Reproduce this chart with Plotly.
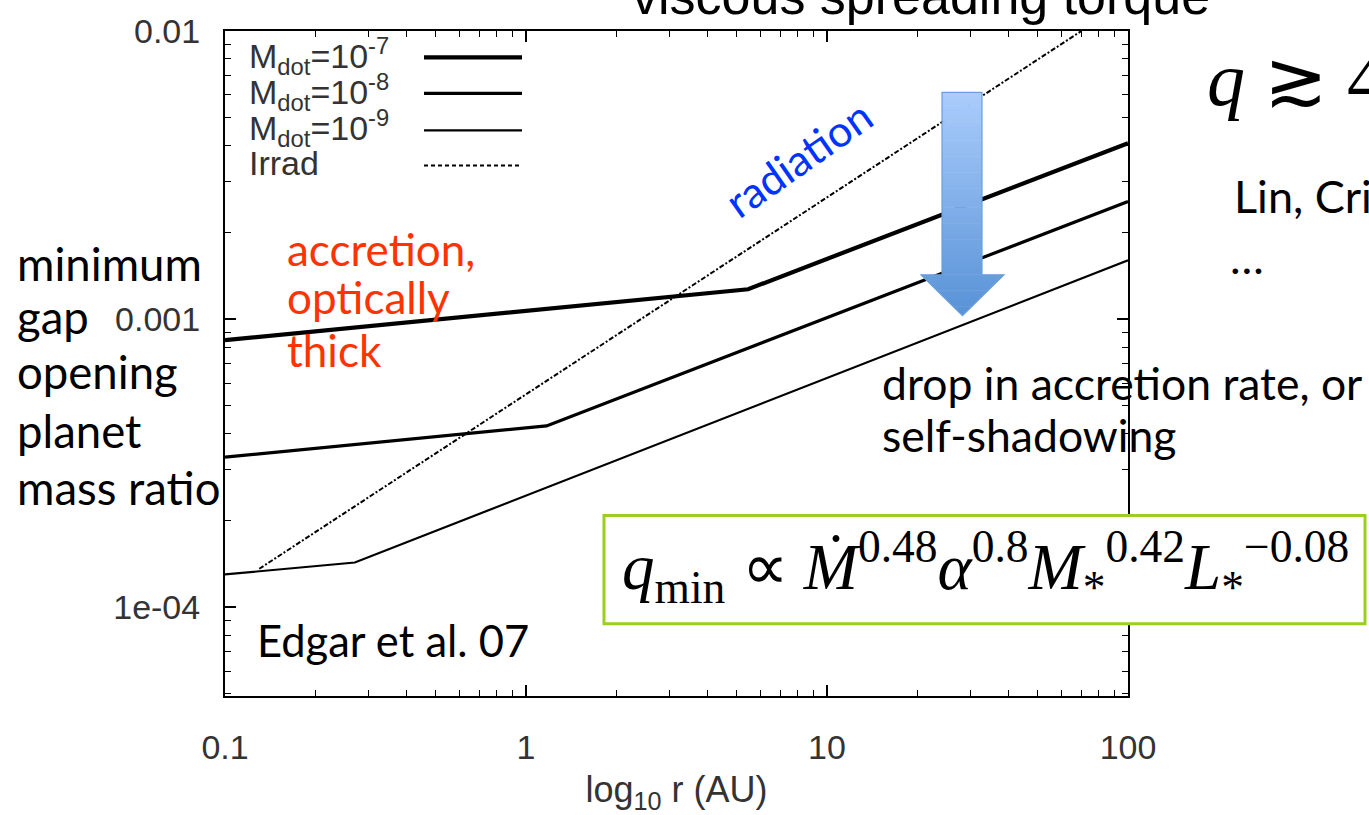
import plotly.graph_objects as go

# ---- figure geometry (pixels) ----
W, H = 1369, 815
ML, MR, MT, MB = 225, 241, 25, 108
PW, PH = W - ML - MR, H - MT - MB


def px(x):
    """pixel column -> paper x"""
    return (x - ML) / PW


def py(y):
    """pixel row (from top) -> paper y"""
    return (H - MB - y) / PH


# ---- data: minimum gap-opening mass ratio vs radius ----
r_mdot7 = [0.1, 5.47, 100]
q_mdot7 = [8.45e-4, 1.27e-3, 4.08e-3]

r_mdot8 = [0.1, 1.17, 100]
q_mdot8 = [3.32e-4, 4.26e-4, 2.56e-3]

r_mdot9 = [0.1, 0.27, 100]
q_mdot9 = [1.30e-4, 1.43e-4, 1.60e-3]

r_irrad = [0.13, 70]
q_irrad = [1.36e-4, 1.0e-2]

series_labels = [
    "M<sub>dot</sub>=10<sup>-7</sup>",
    "M<sub>dot</sub>=10<sup>-8</sup>",
    "M<sub>dot</sub>=10<sup>-9</sup>",
    "Irrad",
]
series_r = [r_mdot7, r_mdot8, r_mdot9, r_irrad]
series_q = [q_mdot7, q_mdot8, q_mdot9, q_irrad]
line_widths = [4.2, 3.2, 2.2, 2.0]
line_dashes = ["solid", "solid", "solid", "5px,2px,2px,2px"]

x_tickvals = [0.1, 1, 10, 100]
x_ticktext = ["0.1", "1", "10", "100"]
y_tickvals = [1e-4, 1e-3, 1e-2]
y_ticktext = ["1e-04", "0.001", "0.01"]

x_minor = [m * d for d in (0.1, 1, 10) for m in range(2, 10)]
y_minor = [m * d for d in (1e-5, 1e-4, 1e-3) for m in range(2, 10)]

X_RANGE = [-1, 2]
Y_RANGE = [-4.308, -2]

fig = go.Figure()
for lab, rr, qq, lw, ld in zip(series_labels, series_r, series_q, line_widths, line_dashes):
    fig.add_trace(go.Scatter(
        x=rr, y=qq, mode="lines", name=lab, showlegend=False,
        line=dict(color="black", width=lw, dash=ld),
    ))

# invisible trace that carries the mirrored top/right axes
fig.add_trace(go.Scatter(
    x=[x_tickvals[0]], y=[y_tickvals[0]], xaxis="x2", yaxis="y2", mode="markers",
    marker=dict(opacity=0), showlegend=False, hoverinfo="skip",
))

tick_font = dict(family="Liberation Sans, Arial, sans-serif", size=34, color="#333333")
minor_x = dict(tickvals=x_minor, ticks="inside", ticklen=6, tickwidth=1.3,
               tickcolor="black", showgrid=False)
minor_y = dict(tickvals=y_minor, ticks="inside", ticklen=6, tickwidth=1.3,
               tickcolor="black", showgrid=False)
axis_common = dict(
    type="log", showline=True, linewidth=2, linecolor="black",
    ticks="inside", ticklen=11, tickwidth=1.5, tickcolor="black",
    showgrid=False, zeroline=False, tickmode="array",
)

fig.update_layout(
    xaxis=dict(
        **axis_common, range=X_RANGE, tickvals=x_tickvals, ticktext=x_ticktext,
        tickfont=tick_font, ticklabelstandoff=20, minor=minor_x,
        title=dict(text="log<sub>10</sub> r (AU)",
                   font=dict(family="Liberation Sans, Arial, sans-serif", size=36, color="#333333"),
                   standoff=12),
    ),
    yaxis=dict(
        **axis_common, range=Y_RANGE, tickvals=y_tickvals, ticktext=y_ticktext,
        tickfont=tick_font, ticklabelstandoff=16, minor=minor_y,
    ),
    xaxis2=dict(
        **axis_common, range=X_RANGE, tickvals=x_tickvals, showticklabels=False,
        minor=minor_x, overlaying="x", side="top",
    ),
    yaxis2=dict(
        **axis_common, range=Y_RANGE, tickvals=y_tickvals, showticklabels=False,
        minor=minor_y, overlaying="y", side="right",
    ),
)

shapes = []
annotations = []

# ---- gnuplot-style key: label on the left, line sample on the right ----
key_text_y = [51, 88, 124, 160]
key_line_y = [52, 89, 127, 163]
for lab, lw, ld, ty, ly in zip(series_labels, line_widths, line_dashes, key_text_y, key_line_y):
    annotations.append(dict(
        x=px(247), y=py(ty), xref="paper", yref="paper", xanchor="left", yanchor="middle",
        text=lab, showarrow=False,
        font=dict(family="Liberation Sans, Arial, sans-serif", size=34, color="#333333"),
    ))
    shapes.append(dict(
        type="line", xref="paper", yref="paper", x0=px(424), x1=px(522), y0=py(ly), y1=py(ly),
        line=dict(color="black", width=lw, dash=ld if ld == "solid" else "4px,3px"),
        layer="above",
    ))

# ---- slide text ----
SANS = "Lato, Open Sans, sans-serif"


def text_lines(lines, x, baselines, size, color, family=SANS):
    for t, b in zip(lines, baselines):
        annotations.append(dict(
            x=px(x), y=py(b - 0.3 * size), xref="paper", yref="paper",
            xanchor="left", yanchor="middle", text=t, showarrow=False,
            font=dict(family=family, size=size, color=color),
        ))


text_lines(["minimum", "gap", "opening", "planet", "mass ratio"], 15,
           [277, 331, 388, 448, 507], 45.5, "black")
text_lines(["accretion,", "optically", "thick"], 285, [262, 311, 365], 44, "#ff3300")
text_lines(["drop in accretion rate, or", "self-shadowing"], 880, [399, 452], 44.5, "black")
text_lines(["Edgar et al. 07"], 255, [663], 43.5, "black")
text_lines(["Lin, Crida"], 1232, [208], 45, "black")
text_lines(["…"], 1228, [270], 45, "black")

annotations.append(dict(
    x=px(798), y=py(156), xref="paper", yref="paper", xanchor="center", yanchor="middle",
    text="radiation", textangle=-35, showarrow=False,
    font=dict(family=SANS, size=43, color="#0033ff"),
))

annotations.append(dict(
    x=px(921), y=py(-11), xref="paper", yref="paper", xanchor="center", yanchor="middle",
    text="viscous spreading torque", showarrow=False,
    font=dict(family="Liberation Sans, Arial, sans-serif", size=52, color="black"),
))

annotations.append(dict(
    x=px(1205), y=py(74), xref="paper", yref="paper", xanchor="left", yanchor="middle",
    text="<i>q</i> ≳ 4", showarrow=False,
    font=dict(family="Liberation Serif, Times New Roman, serif", size=76, color="black"),
))

# ---- scaling-law box ----
shapes.append(dict(
    type="rect", xref="paper", yref="paper", x0=px(604), x1=px(1365), y0=py(633), y1=py(522),
    line=dict(color="#9bcf1d", width=3), fillcolor="white", layer="above",
))
annotations.append(dict(
    x=px(985), y=py(575), xref="paper", yref="paper", xanchor="center", yanchor="middle",
    text=("<i>q</i><sub>min</sub> ∝ <i>Ṁ</i><sup>0.48</sup><i>α</i><sup>0.8</sup>"
          "<i>M</i><sub>*</sub><sup>0.42</sup><i>L</i><sub>*</sub><sup>−0.08</sup>"),
    showarrow=False,
    font=dict(family="Liberation Serif, Times New Roman, serif", size=65, color="black"),
))

# ---- downward gradient arrow ----
shaft_l, shaft_r = 942, 982
head_l, head_r = 921, 1004
y_top, y_head, y_tip = 88, 275, 317
x_mid = (head_l + head_r) / 2
c_top = (170, 204, 252)
c_bot = (88, 146, 214)


def width_at(y):
    if y <= y_head:
        return shaft_l, shaft_r
    f = (y - y_head) / (y_tip - y_head)
    return head_l + f * (x_mid - head_l), head_r - f * (head_r - x_mid)


N = 70
for i in range(N):
    ya = y_top + (y_tip - y_top) * i / N
    yb = min(y_top + (y_tip - y_top) * (i + 1) / N + 0.6, y_tip)
    f = (i + 0.5) / N
    col = "rgb({},{},{})".format(*[round(a + (b - a) * f) for a, b in zip(c_top, c_bot)])
    if ya < y_head < yb:
        la, ra = width_at(ya)
        lh, rh = width_at(y_head - 0.01)
        lh2, rh2 = width_at(y_head + 0.01)
        lb, rb = width_at(yb)
        pts = [(la, ya), (ra, ya), (rh, y_head), (rh2, y_head), (rb, yb), (lb, yb),
               (lh2, y_head), (lh, y_head)]
    else:
        la, ra = width_at(ya)
        lb, rb = width_at(yb)
        pts = [(la, ya), (ra, ya), (rb, yb), (lb, yb)]
    path = "M " + " L ".join(f"{px(x):.5f},{py(y):.5f}" for x, y in pts) + " Z"
    shapes.append(dict(type="path", xref="paper", yref="paper", path=path,
                       fillcolor=col, line=dict(width=0), layer="above"))

outline = [(shaft_l, y_top), (shaft_r, y_top), (shaft_r, y_head), (head_r, y_head),
           (x_mid, y_tip), (head_l, y_head), (shaft_l, y_head)]
shapes.append(dict(
    type="path", xref="paper", yref="paper",
    path="M " + " L ".join(f"{px(x):.5f},{py(y):.5f}" for x, y in outline) + " Z",
    line=dict(color="#6a9fdc", width=1.2), fillcolor="rgba(0,0,0,0)", layer="above",
))

fig.update_layout(
    width=W, height=H, autosize=False,
    margin=dict(l=ML, r=MR, t=MT, b=MB),
    paper_bgcolor="white", plot_bgcolor="white",
    shapes=shapes, annotations=annotations, showlegend=False,
)

fig.write_html("out.html")
